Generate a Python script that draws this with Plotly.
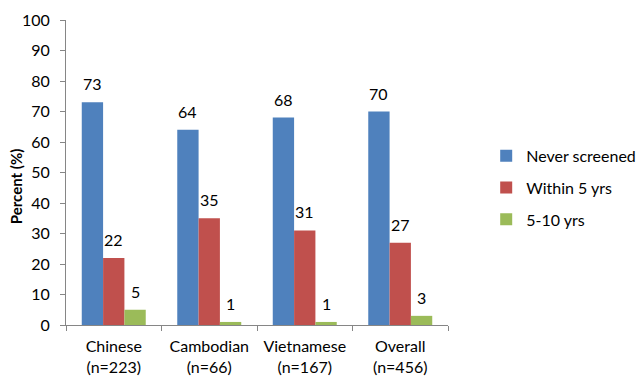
import plotly.graph_objects as go

categories = ["Chinese<br>(n=223)", "Cambodian<br>(n=66)", "Vietnamese<br>(n=167)", "Overall<br>(n=456)"]
series_names = ["Never screened", "Within 5 yrs", "5-10 yrs"]
never_screened = [73, 64, 68, 70]
within_5 = [22, 35, 31, 27]
five_to_ten = [5, 1, 1, 3]
y_ticks = [0, 10, 20, 30, 40, 50, 60, 70, 80, 90, 100]
y_title = "Percent (%)"

colors = ["#4F81BD", "#C0504D", "#9BBB59"]
series = [never_screened, within_5, five_to_ten]
font = "Lato"

fig = go.Figure()
for i, (name, vals) in enumerate(zip(series_names, series)):
    fig.add_trace(go.Bar(x=categories, y=vals, name=name, legendgroup=name,
                         marker=dict(color=colors[i], line=dict(width=0))))

# data labels above bars
bar_px = 21.3
for i, vals in enumerate(series):
    for c, v in zip(categories, vals):
        fig.add_annotation(x=c, y=v, text=str(v), showarrow=False,
                           xshift=(i - 1) * bar_px, yshift=7, yanchor="bottom",
                           font=dict(family=font, size=16, color="#000"))

# y-axis title
fig.add_annotation(x=0, y=0.455, xref="paper", yref="paper", xshift=-50,
                   text="<b>" + y_title + "</b>", textangle=-90, showarrow=False,
                   xanchor="center", yanchor="middle",
                   font=dict(family=font, size=15, color="#000"))

fig.update_layout(
    width=641, height=380,
    margin=dict(l=66, r=193, t=20, b=55, autoexpand=False),
    paper_bgcolor="white", plot_bgcolor="white",
    barmode="group", bargap=0.33, bargroupgap=0,
    font=dict(family=font, size=16, color="#000"),
    showlegend=True,
    legend=dict(x=1.10, y=0.45, xanchor="left", yanchor="middle",
                font=dict(family=font, size=16), tracegroupgap=8,
                bgcolor="rgba(0,0,0,0)"),
)
fig.update_xaxes(showline=True, linecolor="#868686", linewidth=1,
                 ticks="outside", tickson="boundaries", ticklen=5, tickcolor="#868686",
                 ticklabelstandoff=7, tickangle=0, automargin=False,
                 tickfont=dict(family=font, size=16), showgrid=False)
fig.update_yaxes(range=[0, 100], tickvals=y_ticks, showline=True, linecolor="#868686",
                 linewidth=1, ticks="outside", ticklen=5, tickcolor="#868686",
                 ticklabelstandoff=7, showgrid=False, zeroline=False, automargin=False,
                 tickfont=dict(family=font, size=16))

fig.write_html("out.html")
